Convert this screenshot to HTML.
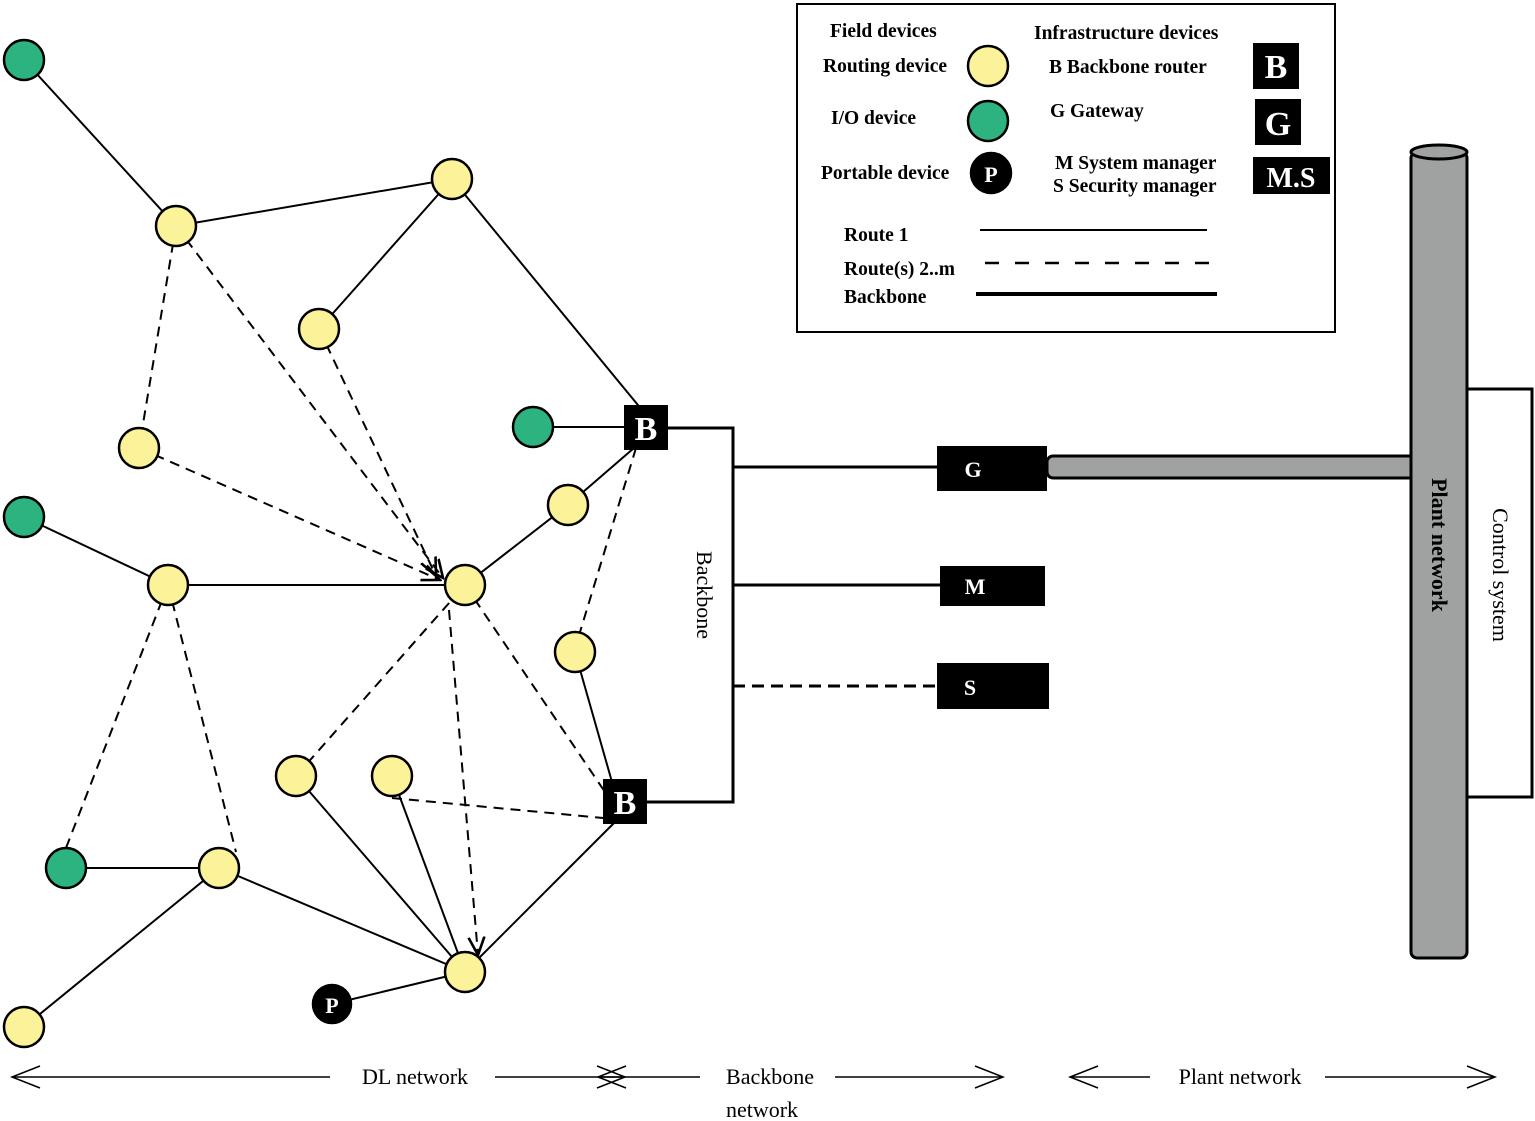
<!DOCTYPE html>
<html><head><style>body{margin:0;background:#fff}svg{display:block}</style></head><body>
<svg width="1535" height="1121" viewBox="0 0 1535 1121" xmlns="http://www.w3.org/2000/svg" font-family="Liberation Serif, serif">
<defs><marker id="ar" markerWidth="10" markerHeight="10" refX="9" refY="5" orient="auto"><path d="M0,1 L9,5 L0,9" fill="none" stroke="#000" stroke-width="1.3"/></marker></defs>
<g stroke="#000" stroke-width="2" fill="none">
<line x1="24" y1="60" x2="176" y2="226"/><line x1="176" y1="226" x2="452" y2="179"/>
<line x1="452" y1="179" x2="319" y2="329"/><line x1="452" y1="179" x2="642" y2="410"/>
<line x1="533" y1="427" x2="626" y2="427"/><line x1="634" y1="448" x2="568" y2="505"/>
<line x1="568" y1="505" x2="465" y2="585"/><line x1="24" y1="517" x2="168" y2="585"/>
<line x1="168" y1="585" x2="465" y2="585"/><line x1="575" y1="652" x2="612" y2="782"/>
<line x1="296" y1="776" x2="465" y2="972"/><line x1="392" y1="776" x2="465" y2="972"/>
<line x1="615" y1="822" x2="465" y2="972"/><line x1="66" y1="868" x2="219" y2="868"/>
<line x1="219" y1="868" x2="465" y2="972"/><line x1="219" y1="868" x2="24" y2="1027"/>
<line x1="332" y1="1004" x2="465" y2="972"/>
</g>
<g stroke="#000" stroke-width="2" fill="none" stroke-dasharray="10,7">
<line x1="176" y1="226" x2="139" y2="448"/>
<line x1="176" y1="226" x2="443" y2="578" marker-end="url(#ar)"/>
<line x1="319" y1="329" x2="436" y2="576" marker-end="url(#ar)"/>
<line x1="139" y1="448" x2="440" y2="580" marker-end="url(#ar)"/>
<line x1="636" y1="448" x2="580" y2="632"/>
<line x1="168" y1="585" x2="66" y2="848"/><line x1="168" y1="585" x2="236" y2="852"/>
<line x1="449" y1="610" x2="478" y2="955" marker-end="url(#ar)"/>
<line x1="465" y1="585" x2="605" y2="792"/>
<line x1="296" y1="776" x2="465" y2="585"/>
<line x1="392" y1="798" x2="603" y2="818"/>
</g>
<g stroke="#000" stroke-width="2.5">
<circle cx="24" cy="60" r="20" fill="#2db37f"/><circle cx="533" cy="427" r="20" fill="#2db37f"/>
<circle cx="24" cy="517" r="20" fill="#2db37f"/><circle cx="66" cy="868" r="20" fill="#2db37f"/>
<g fill="#fbf29a">
<circle cx="176" cy="226" r="20"/><circle cx="452" cy="179" r="20"/><circle cx="319" cy="329" r="20"/>
<circle cx="139" cy="448" r="20"/><circle cx="568" cy="505" r="20"/><circle cx="168" cy="585" r="20"/>
<circle cx="465" cy="585" r="20"/><circle cx="575" cy="652" r="20"/><circle cx="296" cy="776" r="20"/>
<circle cx="392" cy="776" r="20"/><circle cx="219" cy="868" r="20"/><circle cx="465" cy="972" r="20"/>
<circle cx="24" cy="1027" r="20"/></g>
<circle cx="332" cy="1004" r="19" fill="#000"/>
</g>
<text x="332" y="1013" fill="#fff" font-size="22" font-weight="bold" text-anchor="middle">P</text>
<rect x="624" y="405" width="44" height="45" fill="#000"/><text x="646" y="440" fill="#fff" font-size="34" font-weight="bold" text-anchor="middle">B</text>
<rect x="603" y="779" width="44" height="45" fill="#000"/><text x="625" y="814" fill="#fff" font-size="34" font-weight="bold" text-anchor="middle">B</text>
<g stroke="#000" stroke-width="3" fill="none">
<polyline points="668,428 733,428 733,802 647,802"/>
<line x1="733" y1="467" x2="937" y2="467"/><line x1="733" y1="585" x2="940" y2="585"/>
<line x1="733" y1="686" x2="937" y2="686" stroke-dasharray="12,7"/>
</g>
<rect x="937" y="446" width="110" height="45" fill="#000"/><text x="973" y="477" fill="#fff" font-size="22" font-weight="bold" text-anchor="middle">G</text>
<rect x="940" y="566" width="105" height="40" fill="#000"/><text x="975" y="594" fill="#fff" font-size="22" font-weight="bold" text-anchor="middle">M</text>
<rect x="937" y="663" width="112" height="46" fill="#000"/><text x="970" y="695" fill="#fff" font-size="22" font-weight="bold" text-anchor="middle">S</text>
<text transform="translate(697,595) rotate(90)" font-size="22" text-anchor="middle">Backbone</text>
<rect x="1047" y="456" width="368" height="22" fill="#a0a2a2" stroke="#000" stroke-width="3" rx="6"/>
<rect x="1467" y="389" width="65" height="408" fill="#fff" stroke="#000" stroke-width="3"/>
<rect x="1411" y="152" width="56" height="806" fill="#a0a2a2" stroke="#000" stroke-width="3" rx="6"/>
<ellipse cx="1439" cy="152" rx="28" ry="7" fill="#a0a2a2" stroke="#000" stroke-width="3"/>
<text transform="translate(1432,545) rotate(90)" font-size="22" font-weight="bold" text-anchor="middle">Plant network</text>
<text transform="translate(1493,575) rotate(90)" font-size="22" text-anchor="middle">Control system</text>
<rect x="797" y="4" width="538" height="328" fill="none" stroke="#000" stroke-width="2"/>
<g font-size="19.5" font-weight="bold">
<text x="830" y="37">Field devices</text><text x="1034" y="39">Infrastructure devices</text>
<text x="823" y="72">Routing device</text><text x="831" y="124">I/O device</text><text x="821" y="179">Portable device</text>
<text x="1049" y="73">B Backbone router</text><text x="1050" y="117">G Gateway</text>
<text x="1055" y="169">M System manager</text><text x="1053" y="192">S Security manager</text>
<text x="844" y="241">Route 1</text><text x="844" y="275">Route(s) 2..m</text><text x="844" y="303">Backbone</text>
</g>
<g stroke="#000" stroke-width="2.5">
<circle cx="988" cy="66" r="20" fill="#fbf29a"/><circle cx="988" cy="121" r="20" fill="#2db37f"/><circle cx="991" cy="173" r="20" fill="#000"/></g>
<text x="991" y="182" fill="#fff" font-size="22" font-weight="bold" text-anchor="middle">P</text>
<rect x="1253" y="43" width="46" height="46" fill="#000"/><text x="1276" y="78" fill="#fff" font-size="34" font-weight="bold" text-anchor="middle">B</text>
<rect x="1255" y="99" width="46" height="46" fill="#000"/><text x="1278" y="135" fill="#fff" font-size="34" font-weight="bold" text-anchor="middle">G</text>
<rect x="1253" y="157" width="77" height="37" fill="#000"/><text x="1291" y="187" fill="#fff" font-size="28" font-weight="bold" text-anchor="middle">M.S</text>
<line x1="980" y1="230" x2="1207" y2="230" stroke="#000" stroke-width="2"/>
<line x1="985" y1="263" x2="1212" y2="263" stroke="#000" stroke-width="2.5" stroke-dasharray="14,16"/>
<line x1="976" y1="294" x2="1217" y2="294" stroke="#000" stroke-width="4"/>
<g stroke="#000" stroke-width="1.5" fill="none">
<line x1="12" y1="1077" x2="330" y2="1077"/><line x1="495" y1="1077" x2="625" y2="1077"/>
<polyline points="40,1066 12,1077 40,1088"/><polyline points="597,1066 625,1077 597,1088"/>
<line x1="598" y1="1077" x2="700" y2="1077"/><line x1="835" y1="1077" x2="1003" y2="1077"/>
<polyline points="626,1066 598,1077 626,1088"/><polyline points="975,1066 1003,1077 975,1088"/>
<line x1="1070" y1="1077" x2="1150" y2="1077"/><line x1="1325" y1="1077" x2="1495" y2="1077"/>
<polyline points="1098,1066 1070,1077 1098,1088"/><polyline points="1467,1066 1495,1077 1467,1088"/>
</g>
<g font-size="22" text-anchor="middle">
<text x="415" y="1084">DL network</text><text x="770" y="1084">Backbone</text><text x="762" y="1117">network</text><text x="1240" y="1084">Plant network</text>
</g>
</svg>
</body></html>
